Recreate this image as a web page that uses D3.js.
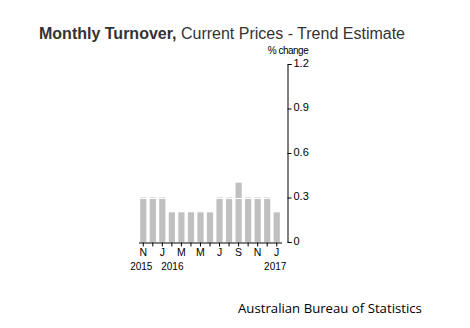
<!DOCTYPE html>
<html><head><meta charset="utf-8">
<script src="https://cdn.jsdelivr.net/npm/d3@7"></script>
<style>body{margin:0;background:#fff}svg{display:block}</style>
</head><body>
<svg id="c" width="470" height="328"></svg>
<script>
const months = ["N","D","J","F","M","A","M","J","J","A","S","O","N","D","J"];
const years = ["2015","","2016","","","","","","","","","","","","2017"];
const values = [0.3,0.3,0.3,0.2,0.2,0.2,0.2,0.2,0.3,0.3,0.4,0.3,0.3,0.3,0.2];
const labelShown = [1,0,1,0,1,0,1,0,1,0,1,0,1,0,1];
const yTicks = [0,0.3,0.6,0.9,1.2];

const svg = d3.select("#c");
const idx = d3.range(values.length);
const x = d3.scaleBand().domain(idx).range([138.5,281.5]).paddingInner(0.35).paddingOuter(0.175);
const y = d3.scaleLinear().domain([0,1.2]).range([242,64]);
const font = "Liberation Sans, Arial, sans-serif";

// bars
svg.append("g").selectAll("rect").data(values).join("rect")
  .attr("x",(d,i)=>x(i)).attr("width",x.bandwidth())
  .attr("y",d=>y(d)).attr("height",d=>y(0)-y(d))
  .attr("fill","#c0c0c0");

// white gridlines over bars
svg.append("g").selectAll("line").data(yTicks.slice(1)).join("line")
  .attr("x1",138).attr("x2",282).attr("y1",d=>Math.round(y(d))+0.5).attr("y2",d=>Math.round(y(d))+0.5)
  .attr("stroke","#fff").attr("stroke-width",1);

// y axis
const ya = svg.append("g").attr("transform","translate(287.5,0)")
  .call(d3.axisRight(y).tickValues(yTicks).tickSize(4).tickPadding(2).tickFormat(d=>d===0?"0":d3.format(".1f")(d)));
ya.select(".domain").attr("stroke","#000");
ya.selectAll("line").attr("stroke","#000");
ya.selectAll("text").attr("font-family",font).attr("font-size",11).attr("fill","#000").attr("dy","0.2em");

// x axis
const xa = svg.append("g").attr("transform","translate(0,242.5)")
  .call(d3.axisBottom(x).tickSize(4).tickSizeOuter(0).tickPadding(2).tickFormat(i=>labelShown[i]?months[i]:""));
xa.select(".domain").attr("stroke","#000");
xa.selectAll("line").attr("stroke","#000");
xa.selectAll("text").attr("font-family",font).attr("font-size",10.5).attr("fill","#000");
// years
const yearShift = {0:-2, 2:10, 14:-1.5};
svg.append("g").selectAll("text").data(idx.filter(i=>years[i])).join("text")
  .attr("x",i=>x(i)+x.bandwidth()/2+yearShift[i]).attr("y",270)
  .attr("text-anchor","middle")
  .attr("font-family",font).attr("font-size",10).attr("fill","#000")
  .text(i=>years[i]);

// unit label
svg.append("text").attr("x",288).attr("y",54).attr("text-anchor","middle")
  .attr("font-family",font).attr("font-size",10).attr("letter-spacing","-0.5")
  .attr("fill","#000").text("% change");

// title
const t = svg.append("text").attr("x",39).attr("y",39)
  .attr("font-family",font).attr("font-size",16).attr("fill","#333");
t.append("tspan").attr("font-weight","bold").text("Monthly Turnover,");
t.append("tspan").text(" Current Prices - Trend Estimate");

// source
svg.append("text").attr("x",238).attr("y",313)
  .attr("font-family","Open Sans, sans-serif").attr("font-size",13.2).attr("fill","#000")
  .text("Australian Bureau of Statistics");
</script>
</body></html>
